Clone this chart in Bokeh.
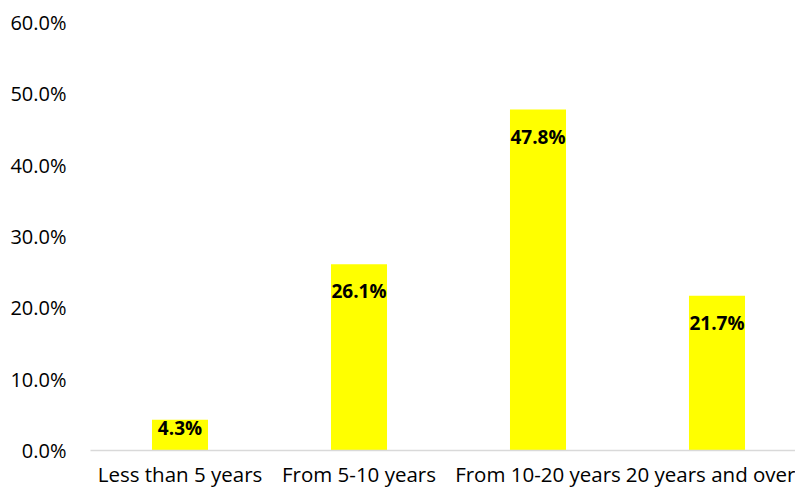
from bokeh.plotting import figure
from bokeh.models import Range1d, FixedTicker, NumeralTickFormatter, ColumnDataSource
from bokeh.core.properties import value
from bokeh.embed import file_html
from bokeh.resources import INLINE

categories = ["Less than 5 years", "From 5-10 years", "From 10-20 years", "20 years and over"]
shares = [0.043, 0.261, 0.478, 0.217]
y_ticks = [0.0, 0.1, 0.2, 0.3, 0.4, 0.5, 0.6]

FONT = "Open Sans"
W, H = 795, 492
TOP, BOTTOM, LEFT = 22, 42, 90
frame_h = H - TOP - BOTTOM
px_per_unit = frame_h / 0.6

xs = [i + 0.5 for i in range(len(categories))]
label_y = []
for v in shares:
    bar_px = v * px_per_unit
    off = min(27, bar_px - 23)
    label_y.append(v - off / px_per_unit)
labels = ["{:.1f}%".format(v * 100) for v in shares]

src = ColumnDataSource(dict(x=xs, top=shares, ly=label_y, lab=labels))

p = figure(width=W, height=H, output_backend="svg", toolbar_location=None,
           x_range=Range1d(0, (W - LEFT) / 179.0), y_range=Range1d(0, 0.6),
           min_border_left=LEFT, min_border_right=0, min_border_top=TOP,
           min_border_bottom=BOTTOM)
p.outline_line_color = None
p.xgrid.visible = False
p.ygrid.visible = False

p.vbar(x="x", top="top", width=0.313, bottom=0, source=src,
       fill_color="#FFFF00", line_color=None)
p.text(x="x", y="ly", text="lab", source=src, text_align="center",
       text_baseline="middle", text_font=value(FONT), text_font_size="19px",
       text_font_style="bold", text_color="#000000")

p.yaxis.ticker = FixedTicker(ticks=y_ticks)
p.yaxis.formatter = NumeralTickFormatter(format="0.0%")
p.yaxis.axis_line_color = None
p.yaxis.major_tick_line_color = None
p.yaxis.minor_tick_line_color = None
p.yaxis.major_label_text_font = FONT
p.yaxis.major_label_text_font_size = "20px"
p.yaxis.major_label_text_color = "#000000"
p.yaxis.major_label_standoff = 18

p.xaxis.ticker = FixedTicker(ticks=xs)
p.xaxis.major_label_overrides = {x: c for x, c in zip(xs, categories)}
p.xaxis.axis_line_color = "#D9D9D9"
p.xaxis.axis_line_width = 1.5
p.xaxis.major_tick_line_color = None
p.xaxis.minor_tick_line_color = None
p.xaxis.major_label_text_font = FONT
p.xaxis.major_label_text_font_size = "20.5px"
p.xaxis.major_label_text_color = "#000000"
p.xaxis.major_label_standoff = 3

open("out.html", "w").write(file_html(p, INLINE))
